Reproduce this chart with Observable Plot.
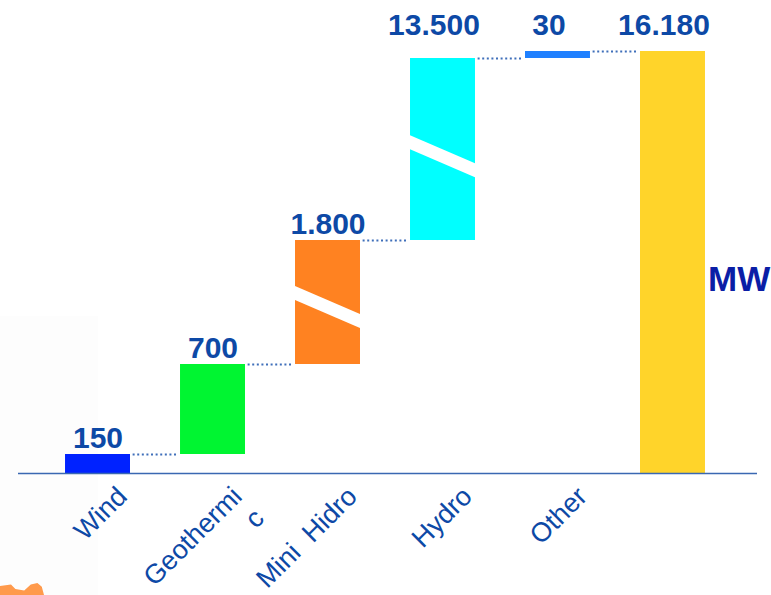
<!DOCTYPE html>
<html><head><meta charset="utf-8">
<script src="https://cdn.jsdelivr.net/npm/d3@7"></script>
<script src="https://cdn.jsdelivr.net/npm/@observablehq/plot@0.6"></script>
<style>
body{margin:0;background:#fff;}
#wrap{position:relative;width:771px;height:595px;overflow:hidden;font-family:"Liberation Sans",Arial,sans-serif;}
#shade{position:absolute;left:0;top:316px;width:98px;height:279px;background:#fdfdfd;}
#blob{position:absolute;left:0;top:580px;width:44px;height:15px;background:#ff9a4c;clip-path:polygon(0 40%,25% 30%,35% 60%,55% 70%,70% 30%,85% 20%,95% 45%,100% 100%,0 100%);}
#chart{position:absolute;left:0;top:0;}
</style></head><body>
<div id="wrap"><div id="shade"></div><div id="blob"></div><div id="chart"></div></div>
<script>
// ---- data ----
const categories = ["Wind", "Geothermic", "Mini Hidro", "Hydro", "Other", "Total"];
const tickLabels = ["Wind", "Geothermi\nc", "Mini  Hidro", "Hydro", "Other", ""];
const values = [150, 700, 1800, 13500, 30, 16180];
const colors = ["#0022ff", "#00f531", "#ff8221", "#00ffff", "#1f80ff", "#ffd42a"];
const brokenBars = ["Mini Hidro", "Hydro"];
const unit = "MW";

// ---- build waterfall ----
let acc = 0;
const rows = categories.map((cat, i) => {
  const isTotal = i === categories.length - 1;
  const start = isTotal ? 0 : acc;
  const end = isTotal ? values[i] : acc + values[i];
  if (!isTotal) acc = end;
  return {cat, start, end, value: values[i], color: colors[i], tick: tickLabels[i],
          label: values[i].toLocaleString("de-DE")};
});
const total = values[values.length - 1];
const links = rows.slice(0, -1).map((r, i) => ({cat: r.cat, next: rows[i + 1].cat, level: r.end}));
const breaks = rows.filter(r => brokenBars.includes(r.cat)).map(r => ({cat: r.cat, mid: r.start + r.value * 0.46}));

// not-to-scale (broken) axis: piecewise linear through each cumulative level
const levels = [0, ...rows.slice(0, -1).map(r => r.end)];
const yRange = [473, 454, 364, 240, 58, 51];

const textColor = "#0d49a6";

function skew(index, scales, vals, dims, ctx, next) {
  const g = next(index, scales, vals, dims, ctx);
  d3.select(g).selectAll("rect").each(function () {
    const x = +this.getAttribute("x"), y = +this.getAttribute("y");
    const w = +this.getAttribute("width"), h = +this.getAttribute("height");
    const cx = x + w / 2, cy = y + h / 2;
    this.setAttribute("transform", `translate(${cx},${cy}) skewY(23.3) translate(${-cx},${-cy})`);
  });
  return g;
}

const chart = Plot.plot({
  width: 771, height: 595,
  marginLeft: 15, marginRight: 16, marginTop: 0, marginBottom: 0,
  style: {fontFamily: "'Liberation Sans', Arial, sans-serif", background: "transparent", overflow: "visible"},
  x: {type: "band", domain: categories, padding: 0.435, round: false, axis: null},
  y: {type: "linear", domain: levels, range: yRange, axis: null},
  color: {type: "identity"},
  marks: [
    Plot.barY(rows, {x: "cat", y1: "start", y2: "end", fill: "color"}),
    Plot.barY(breaks, {x: "cat", y1: "mid", y2: "mid", fill: "white", insetTop: -7, insetBottom: -7, render: skew}),
    Plot.ruleY(links, {y: "level", x1: "next", x2: "cat", stroke: "#3f6fba", strokeWidth: 2, strokeDasharray: "2,2.6", insetLeft: -4, insetRight: -2}),
    Plot.ruleY([0], {stroke: "#3a68b2", strokeWidth: 1.5, insetLeft: 3, insetRight: -2}),
    Plot.text(rows.filter(r => r.end <= total / 2), {x: "cat", y: "end", text: "label", dy: -7, lineAnchor: "bottom",
      fill: textColor, fontSize: 30, fontWeight: "bold"}),
    Plot.text(rows.filter(r => r.end > total / 2), {x: "cat", text: "label", frameAnchor: "top", lineAnchor: "top", dy: 13, dx: -9,
      fill: textColor, fontSize: 30, fontWeight: "bold"}),
    Plot.text(rows, {x: "cat", text: "tick", frameAnchor: "bottom", rotate: -45, textAnchor: "end", lineAnchor: "top",
      dx: 15, dy: -113, fill: textColor, fontSize: 27, lineHeight: 1.15}),
    Plot.text([{cat: "Total", unit}], {x: "cat", text: "unit", frameAnchor: "middle", textAnchor: "start", dx: 35, dy: -18,
      fill: "#0b1ea6", fontSize: 35, fontWeight: "bold"})
  ]
});
document.getElementById("chart").appendChild(chart);
</script>
</body></html>
